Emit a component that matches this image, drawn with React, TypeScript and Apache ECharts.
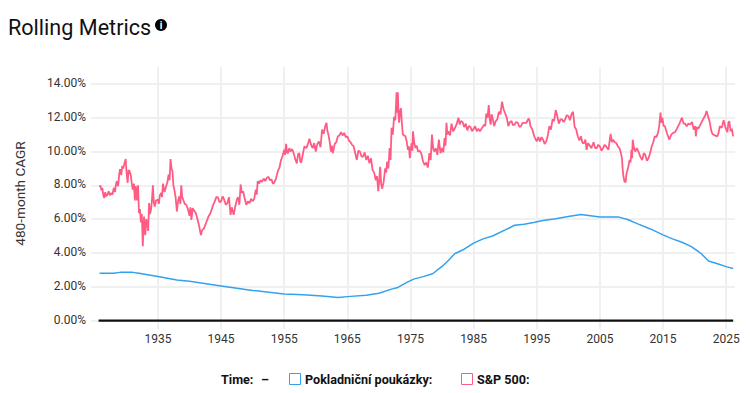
import React, { useEffect, useRef } from "react";
import * as echarts from "echarts";

const yTicks = [0, 2, 4, 6, 8, 10, 12, 14];
const xTicks = [1935, 1945, 1955, 1965, 1975, 1985, 1995, 2005, 2015, 2025];

const billYears = [1925.75, 1928, 1929, 1931, 1932, 1935, 1938, 1940, 1945, 1950, 1955, 1958, 1961, 1963.5, 1965.5, 1968, 1970, 1972, 1973, 1974.5, 1975.5, 1977, 1978.5, 1980, 1981, 1982, 1983.5, 1985, 1986.5, 1988, 1990, 1991.5, 1993, 1994.5, 1996, 1998, 2000, 2002, 2003.5, 2005, 2008, 2009.5, 2011, 2013, 2015, 2016.5, 2018, 2019.5, 2021, 2022.2, 2023.5, 2025, 2026.1];
const billValues = [2.8, 2.8, 2.85, 2.85, 2.8, 2.6, 2.4, 2.32, 2.05, 1.78, 1.57, 1.52, 1.45, 1.37, 1.43, 1.5, 1.62, 1.86, 1.96, 2.27, 2.45, 2.6, 2.77, 3.2, 3.55, 3.95, 4.22, 4.58, 4.83, 5.0, 5.36, 5.64, 5.7, 5.8, 5.92, 6.02, 6.16, 6.28, 6.2, 6.12, 6.12, 5.96, 5.72, 5.42, 5.07, 4.83, 4.63, 4.37, 3.98, 3.52, 3.38, 3.19, 3.08];

const spYears = [
  1925.75, 1925.9, 1926.05, 1926.2, 1926.35, 1926.5, 1926.65, 1926.8, 1927, 1927.2, 1927.4, 1927.6, 1927.8, 1928, 1928.2, 1928.35, 1928.5, 1928.7, 1928.85, 1929, 1929.2, 1929.35, 1929.5, 1929.7, 1929.9, 1930, 1930.2, 1930.35, 1930.5, 1930.7, 1930.85, 1931, 1931.2, 1931.35, 1931.5, 1931.7, 1931.85, 1932, 1932.15, 1932.3, 1932.45, 1932.6, 1932.7, 1932.8, 1932.9, 1933, 1933.15, 1933.3, 1933.45, 1933.6, 1933.75, 1933.9, 1934.05, 1934.2, 1934.35, 1934.5, 1934.7, 1935, 1935.15, 1935.3, 1935.5, 1935.65, 1935.8, 1936.05, 1936.3, 1936.5, 1936.7, 1936.85, 1937, 1937.15, 1937.3, 1937.45, 1937.6, 1937.8, 1938, 1938.2, 1938.4, 1938.55, 1938.7, 1938.85, 1939, 1939.25, 1939.5, 1939.75, 1940, 1940.15, 1940.3, 1940.5, 1940.75, 1941, 1941.3, 1941.55, 1941.8, 1942, 1942.3, 1942.65, 1943, 1943.25, 1943.5, 1943.75, 1944, 1944.25, 1944.5, 1944.75, 1945, 1945.25, 1945.5, 1945.75, 1946, 1946.25, 1946.5, 1946.7, 1947, 1947.25, 1947.5, 1947.7, 1947.9, 1948.1, 1948.3, 1948.5, 1948.75, 1949, 1949.25, 1949.5, 1949.75, 1950, 1950.25, 1950.5, 1950.65, 1950.8,
  1951, 1951.25, 1951.5, 1951.75, 1952, 1952.25, 1952.5, 1952.75, 1953, 1953.2, 1953.4, 1953.7, 1954, 1954.25, 1954.5, 1954.75, 1955, 1955.15, 1955.3, 1955.45, 1955.6, 1955.8, 1956, 1956.25, 1956.5, 1956.75, 1957, 1957.2, 1957.4, 1957.55, 1957.7, 1957.95, 1958.2, 1958.5, 1958.8, 1959, 1959.25, 1959.5, 1959.75, 1960, 1960.25, 1960.5, 1960.75, 1961, 1961.25, 1961.5, 1961.7, 1961.85, 1962, 1962.2, 1962.4, 1962.55, 1962.7, 1963, 1963.25, 1963.5, 1963.75, 1964, 1964.25, 1964.5, 1964.75, 1965, 1965.25, 1965.5, 1965.75, 1966, 1966.25, 1966.5, 1966.75, 1967, 1967.25, 1967.5, 1967.75, 1968, 1968.25, 1968.5, 1968.75, 1969, 1969.25, 1969.5, 1969.7, 1969.9, 1970.05, 1970.2, 1970.35, 1970.5, 1970.75, 1971, 1971.15, 1971.3, 1971.5, 1971.7, 1971.85, 1972, 1972.2, 1972.4, 1972.6, 1972.8, 1972.9, 1973, 1973.1, 1973.2, 1973.35, 1973.5, 1973.65, 1973.8, 1974, 1974.2, 1974.4, 1974.6, 1974.75, 1974.9, 1975.05, 1975.2, 1975.3, 1975.4, 1975.6, 1975.8, 1976, 1976.2, 1976.45, 1976.7, 1977, 1977.25,
  1977.5, 1977.75, 1978, 1978.2, 1978.4, 1978.6, 1978.8, 1979, 1979.25, 1979.5, 1979.75, 1980, 1980.2, 1980.4, 1980.55, 1980.7, 1980.85, 1981, 1981.25, 1981.5, 1981.75, 1982, 1982.3, 1982.6, 1982.8, 1983, 1983.25, 1983.5, 1983.75, 1984, 1984.25, 1984.5, 1984.75, 1985, 1985.25, 1985.5, 1985.75, 1986, 1986.35, 1986.7, 1986.85, 1987, 1987.2, 1987.4, 1987.55, 1987.7, 1987.85, 1988, 1988.25, 1988.5, 1988.75, 1989, 1989.25, 1989.5, 1989.75, 1990, 1990.25, 1990.5, 1990.75, 1991, 1991.25, 1991.5, 1991.75, 1992, 1992.25, 1992.5, 1992.75, 1993, 1993.35, 1993.7, 1993.85, 1994, 1994.3, 1994.6, 1994.8, 1995, 1995.25, 1995.5, 1995.75, 1996, 1996.25, 1996.5, 1996.75, 1997, 1997.25, 1997.5, 1997.75, 1998, 1998.25, 1998.5, 1998.75, 1999, 1999.25, 1999.5, 1999.75, 2000, 2000.25, 2000.5, 2000.75, 2001, 2001.25, 2001.5, 2001.75,
  2002, 2002.25, 2002.5, 2002.7, 2002.9, 2003.1, 2003.3, 2003.65, 2004, 2004.25, 2004.5, 2004.75, 2005, 2005.25, 2005.5, 2005.75, 2006, 2006.35, 2006.7, 2006.9, 2007.1, 2007.35, 2007.6, 2007.85, 2008.1, 2008.3, 2008.5, 2008.6, 2008.7, 2008.9, 2009.1, 2009.2, 2009.3, 2009.5, 2009.7, 2009.85, 2010, 2010.1, 2010.2, 2010.4, 2010.6, 2010.85, 2011.1, 2011.4, 2011.7, 2011.95, 2012.2, 2012.45, 2012.7, 2012.95, 2013.2, 2013.45, 2013.7, 2013.95, 2014.2, 2014.4, 2014.6, 2014.75, 2014.9, 2015.1, 2015.3, 2015.65, 2016, 2016.3, 2016.6, 2016.9, 2017.2, 2017.6, 2018, 2018.25, 2018.5, 2018.75, 2019, 2019.3, 2019.6, 2019.85, 2020.1, 2020.2, 2020.35, 2020.6, 2021, 2021.4, 2021.65, 2021.9, 2022.15, 2022.4, 2022.6, 2022.8, 2023.2, 2023.6, 2023.8, 2024, 2024.3, 2024.6, 2024.9, 2025.2, 2025.35, 2025.5, 2025.7, 2025.9, 2026.1,
];
const spValues = [
  7.9, 8.0, 7.7, 7.85, 7.4, 7.25, 7.6, 7.35, 7.45, 7.65, 7.4, 7.55, 7.45, 7.85, 7.6, 8.05, 8.25, 7.95, 8.6, 8.95, 8.6, 9.15, 9.0, 9.3, 9.55, 8.9, 8.15, 8.9, 8.85, 8.6, 8.15, 7.75, 8.1, 7.1, 7.95, 7.1, 8.0, 6.35, 6.6, 5.8, 6.3, 4.4, 5.4, 6.15, 5.3, 5.05, 6.0, 5.75, 5.3, 6.95, 6.3, 6.55, 7.1, 8.0, 7.0, 6.75, 7.1, 7.15, 6.9, 7.4, 7.55, 7.3, 8.1, 7.6, 7.95, 8.2, 8.65, 8.3, 9.55, 9.0, 8.85, 8.0, 7.75, 7.3, 6.45, 7.1, 7.35, 6.9, 8.0, 7.3, 7.15, 6.9, 6.85, 6.6, 6.2, 6.7, 5.95, 6.65, 6.5, 6.35, 5.95, 5.55, 5.05, 5.35, 5.45, 5.8, 6.15, 6.3, 6.55, 6.85, 7.05, 7.3, 7.3, 7.0, 7.05, 7.35, 7.15, 6.85, 6.95, 7.3, 6.25, 6.7, 6.25, 6.75, 7.15, 7.3, 6.85, 8.05, 7.55, 7.65, 7.2, 6.85, 7.05, 6.95, 7.2, 7.05, 7.2, 7.75, 7.45, 8.25,
  8.1, 8.3, 8.2, 8.4, 8.25, 8.45, 8.5, 8.3, 8.35, 8.1, 8.15, 8.4, 8.85, 9.05, 9.5, 9.75, 10.1, 9.8, 10.45, 9.95, 9.9, 10.2, 10, 10.15, 9.9, 9.55, 9.3, 9.85, 9.9, 9.4, 9.35, 9.85, 10.3, 10.2, 10.5, 10.75, 10.4, 10.2, 10.5, 10, 10.45, 10.6, 10.25, 11.3, 11.05, 11.5, 11.7, 11.2, 11, 10.6, 10, 10.35, 9.9, 10.45, 10.55, 10.9, 10.95, 11.15, 10.95, 11.1, 10.85, 10.9, 10.65, 10.55, 10.4, 10.3, 9.9, 9.5, 10.05, 10, 9.7, 9.7, 9.95, 9.5, 9.75, 9.3, 9.6, 8.9, 8.75, 8.3, 8.55, 7.65, 8.3, 9.1, 8.1, 7.8, 8.2, 9.0, 8.75, 9.4, 9.0, 10.2, 9.5, 11.4, 11.0, 12.05, 11.85, 13.5, 12.3, 13.5, 12.2, 11.7, 12.4, 12.55, 11.6, 11, 10.95, 10.9, 10.6, 10.1, 10.3, 9.6, 10.2, 10.5, 10.05, 11.2, 10.5, 10.2, 10.35, 10, 10.05, 9.9, 9.4, 9.2,
  9.35, 9.05, 9.9, 9.5, 11.0, 10.15, 10, 10.2, 9.8, 10.7, 9.9, 10.2, 9.95, 10.8, 10.35, 11.7, 11.0, 11.2, 10.95, 11.65, 11.2, 11.35, 11.6, 12.0, 11.6, 11.8, 11.75, 11.45, 11.65, 11.25, 11.5, 11.45, 11.2, 11.35, 11.5, 11.2, 11.35, 11.2, 11.4, 11.6, 11.5, 12.25, 12.0, 12.75, 11.9, 11.6, 12.2, 12, 11.5, 11.8, 11.9, 12.35, 12.2, 12.95, 12.5, 12.25, 12.0, 11.5, 11.75, 11.8, 11.55, 11.6, 11.75, 11.7, 11.45, 11.5, 11.7, 11.7, 11.7, 11.95, 11.85, 11.5, 11.3, 10.9, 10.75, 10.6, 10.85, 10.6, 10.85, 10.7, 10.45, 10.6, 10.95, 11.5, 11.3, 11.9, 11.8, 12.45, 12.1, 11.65, 11.9, 11.9, 11.75, 11.9, 12.15, 12.1, 11.85, 12.2, 12.35, 11.45, 11.3, 10.9, 10.65,
  10.9, 10.5, 10.5, 10.7, 10.1, 10.5, 10.4, 10.2, 10.55, 10.2, 10.2, 10.4, 10.3, 10.05, 10.2, 10.4, 10.3, 10.1, 11.05, 10.55, 10.7, 10.55, 10.5, 10.3, 10.2, 9.95, 9.6, 9.0, 8.6, 8.2, 8.2, 8.7, 8.8, 9.1, 9.5, 9.35, 10.1, 9.6, 10.7, 10.2, 10.0, 10.2, 10.0, 9.7, 9.5, 9.9, 9.8, 9.45, 9.6, 9.9, 10.3, 10.55, 10.9, 10.85, 11.1, 11.5, 12.3, 11.7, 12.0, 11.5, 11.5, 11.05, 10.7, 11.0, 11.1, 11.15, 11.35, 11.65, 12, 11.65, 11.65, 11.5, 11.65, 11.6, 11.75, 11.3, 11.5, 10.9, 11.45, 11.35, 11.65, 11.95, 12.1, 12.4, 12.05, 11.75, 11.3, 11.05, 10.95, 10.9, 11.1, 11.5, 11.4, 11.85, 11.4, 11.15, 11.7, 11.8, 11.2, 11.35, 10.9,
];

const zeroLineYears = [1925.6, 2026.1];
const zeroLineValues = [0, 0];

const TITLE = "Rolling Metrics";
const Y_NAME = "480-month CAGR";
const pairs = (xs: number[], ys: number[]) => xs.map((x, i) => [x, ys[i]]);

export default function App() {
  const ref = useRef<HTMLDivElement>(null);
  useEffect(() => {
    const chart = echarts.init(ref.current!, undefined, { renderer: "svg" });
    const font = "Roboto";
    const legendText = (x: number, text: string) => ({
      type: "text", x, y: 379,
      style: { text, font: `700 12.6px ${font}`, fill: "#111", verticalAlign: "middle", textAlign: "left" },
    });
    const legendBox = (x: number, stroke: string) => ({
      type: "rect", shape: { x: x + 0.5, y: 373.5, width: 11, height: 11 },
      style: { fill: "#fff", stroke, lineWidth: 1 },
    });
    chart.setOption({
      animation: false,
      backgroundColor: "#fff",
      grid: { left: 91, right: 15, top: 67, height: 262 },
      xAxis: {
        type: "value", min: 1924.4, max: 2026.4,
        axisLine: { show: false },
        axisTick: { show: false, customValues: xTicks },
        axisLabel: { customValues: xTicks, formatter: (v: number) => String(v), color: "#333", fontFamily: font, fontSize: 12, margin: 4, showMinLabel: true, showMaxLabel: true },
        splitLine: { show: true, lineStyle: { color: "#f0f0f0", width: 2 } },
      },
      yAxis: {
        type: "value", min: -0.5, max: 15,
        axisLine: { show: false },
        axisTick: { show: false, customValues: yTicks },
        axisLabel: { customValues: yTicks, formatter: (v: number) => v.toFixed(2) + "%", color: "#333", fontFamily: font, fontSize: 12, margin: 5, verticalAlign: "bottom", lineHeight: 2 },
        splitLine: { show: true, lineStyle: { color: "#f0f0f0", width: 2 } },
      },
      graphic: [
        { type: "text", x: 8, y: 27, style: { text: TITLE, font: `400 21.6px ${font}`, fill: "#111", verticalAlign: "middle" } },
        { type: "circle", shape: { cx: 161, cy: 25, r: 6 }, style: { fill: "#000" } },
        { type: "text", x: 161, y: 25, style: { text: "i", font: `700 10px ${font}`, fill: "#fff", textAlign: "center", verticalAlign: "middle" } },
        { type: "text", x: 20, y: 193.5, rotation: Math.PI / 2, style: { text: Y_NAME, font: `400 13.6px ${font}`, fill: "#333", textAlign: "center", verticalAlign: "middle" } },
        legendText(221, "Time:"),
        legendText(261, "–"),
        legendBox(289, "#33a1ee"),
        legendText(305, "Pokladniční poukázky:"),
        legendBox(461, "#ff5c85"),
        legendText(477, "S&P 500:"),
      ],
      series: [
        { name: "Zero", type: "line", data: pairs(zeroLineYears, zeroLineValues), symbol: "none", silent: true, lineStyle: { color: "#111", width: 2.2 } },
        { name: "Pokladniční poukázky", type: "line", data: pairs(billYears, billValues), symbol: "none", lineStyle: { color: "#33a1ee", width: 1.5 } },
        { name: "S&P 500", type: "line", data: pairs(spYears, spValues), symbol: "none", lineStyle: { color: "#ff5c85", width: 1.8 } },
      ],
    });
    return () => chart.dispose();
  }, []);
  return <div ref={ref} style={{ position: "absolute", left: 0, top: 0, width: 750, height: 393 }} />;
}
